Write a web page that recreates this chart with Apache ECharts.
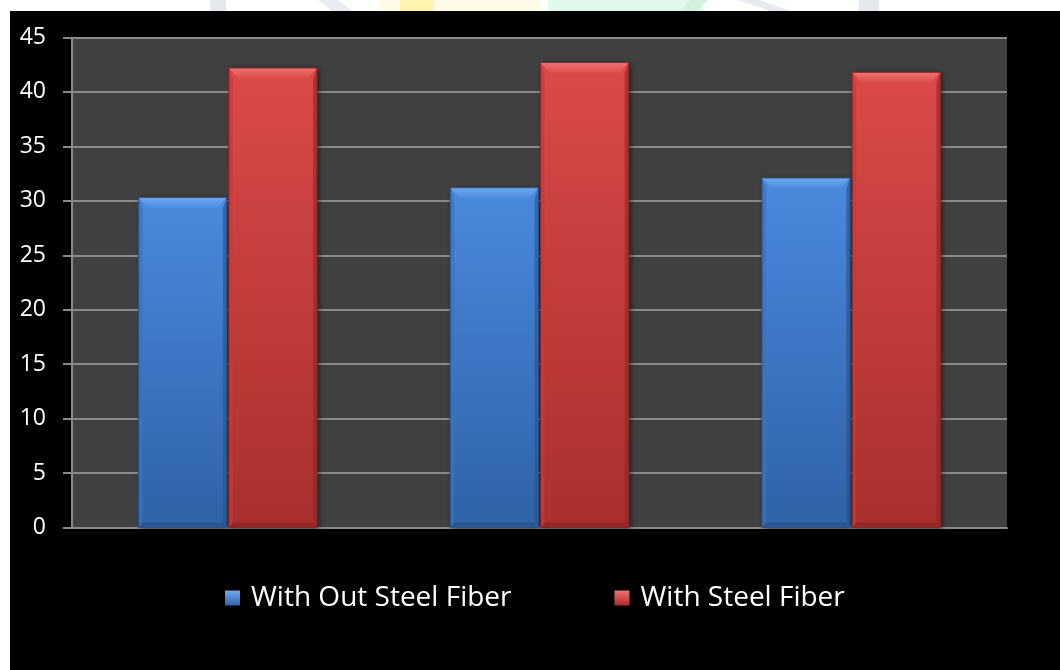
<!DOCTYPE html>
<html>
<head>
<meta charset="utf-8">
<title>Steel fiber comparison</title>
<script src="https://cdn.jsdelivr.net/npm/echarts@6/dist/echarts.min.js"></script>
<style>
  html, body { margin: 0; padding: 0; background: #000; }
  #chart { width: 1060px; height: 670px; }
</style>
</head>
<body>
<div id="chart"></div>
<script>
// Values per mix: compressive strength without and with steel fiber
const categories = ['1', '2', '3'];
const seriesNames = ['With Out Steel Fiber', 'With Steel Fiber'];
const withoutFiber = [30.3, 31.2, 32.1];
const withFiber = [42.2, 42.7, 41.8];
const yTicks = { min: 0, max: 45, interval: 5 };

// Bevelled bar palettes: body gradient, top bevel, side and bottom edges
const palettes = [
  { top: '#4a8ade', bottom: '#2f62a6', bevel: '#6eaaf2', side: '#3a74c0', edge: '#28548f' },
  { top: '#dc4a48', bottom: '#a8302e', bevel: '#f07270', side: '#c23c3a', edge: '#8c2624' }
];

function bevelBar(sideIndex) {
  const pal = palettes[sideIndex];
  return function (params, api) {
    const cat = api.value(0);
    const val = api.value(1);
    const topPt = api.coord([cat, val]);
    const basePt = api.coord([cat, 0]);
    const band = api.size([1, 0])[0];
    const bw = band * 0.283;
    const x = sideIndex === 0 ? topPt[0] - bw - 1 : topPt[0] + 1;
    const y = topPt[1];
    const h = basePt[1] - topPt[1];
    const b = 11, s = 4, d = 5;
    return {
      type: 'group',
      children: [
        {
          type: 'rect',
          shape: { x: x, y: y, width: bw, height: h },
          style: {
            fill: new echarts.graphic.LinearGradient(0, 0, 0, 1, [
              { offset: 0, color: pal.top },
              { offset: 1, color: pal.bottom }
            ]),
            shadowBlur: 6, shadowOffsetX: 2, shadowOffsetY: 1, shadowColor: 'rgba(0,0,0,0.55)'
          }
        },
        {
          type: 'polygon',
          shape: { points: [[x, y + h], [x + s, y + h - d], [x + bw - s, y + h - d], [x + bw, y + h]] },
          style: { fill: pal.edge, opacity: 0.8 }
        },
        {
          type: 'polygon',
          shape: { points: [[x, y], [x + s, y + b], [x + s, y + h - d], [x, y + h]] },
          style: { fill: pal.side, opacity: 0.7 }
        },
        {
          type: 'polygon',
          shape: { points: [[x + bw, y], [x + bw - s, y + b], [x + bw - s, y + h - d], [x + bw, y + h]] },
          style: { fill: pal.edge, opacity: 0.6 }
        },
        {
          type: 'polygon',
          shape: { points: [[x, y], [x + bw, y], [x + bw - s - 6, y + b], [x + s + 6, y + b]] },
          style: {
            fill: new echarts.graphic.LinearGradient(0, 0, 0, 1, [
              { offset: 0, color: pal.bevel },
              { offset: 1, color: pal.top }
            ])
          }
        },
        {
          type: 'rect',
          shape: { x: x, y: y, width: bw, height: h },
          style: { fill: 'none', stroke: pal.edge, lineWidth: 1 }
        }
      ]
    };
  };
}

function toData(values) {
  return values.map(function (v, i) { return [i, v]; });
}

function legendColor(i) {
  return new echarts.graphic.LinearGradient(0, 0, 0, 1, [
    { offset: 0, color: palettes[i].bevel },
    { offset: 1, color: palettes[i].bottom }
  ]);
}

const chart = echarts.init(document.getElementById('chart'), null, { renderer: 'canvas' });

chart.setOption({
  backgroundColor: '#000',
  animation: false,
  textStyle: { fontFamily: 'Open Sans' },
  graphic: [
    // page margin above and left of the chart, with faint decorative shapes
    { type: 'rect', left: 0, top: 0, shape: { width: 1060, height: 11 }, style: { fill: '#ffffff' }, z: 0 },
    { type: 'rect', left: 0, top: 0, shape: { width: 10, height: 670 }, style: { fill: '#ffffff' }, z: 0 },
    { type: 'rect', left: 210, top: 0, shape: { width: 16, height: 11 }, style: { fill: '#e4e9ee' }, z: 1 },
    { type: 'polygon', shape: { points: [[318, 0], [338, 0], [352, 11], [332, 11]] }, style: { fill: '#e9edf1' }, z: 1 },
    { type: 'rect', left: 380, top: 0, shape: { width: 160, height: 11 }, style: { fill: '#fffbe6' }, z: 1 },
    { type: 'rect', left: 400, top: 0, shape: { width: 34, height: 11 }, style: { fill: '#fff3b0' }, z: 1 },
    { type: 'rect', left: 548, top: 0, shape: { width: 155, height: 11 }, style: { fill: '#e3f8ec' }, z: 1 },
    { type: 'polygon', shape: { points: [[690, 0], [708, 0], [696, 11], [680, 11]] }, style: { fill: '#d6f0e0' }, z: 1 },
    { type: 'polygon', shape: { points: [[738, 0], [760, 0], [790, 11], [770, 11]] }, style: { fill: '#e6ebef' }, z: 1 },
    { type: 'rect', left: 859, top: 0, shape: { width: 20, height: 11 }, style: { fill: '#e4e9ee' }, z: 1 }
  ],
  grid: {
    left: 72, right: 53, top: 37.5, bottom: 142.5,
    show: true, backgroundColor: '#404040', borderWidth: 0
  },
  legend: {
    left: 220,
    top: 579,
    itemWidth: 15,
    itemHeight: 15,
    itemGap: 103,
    icon: 'rect',
    textStyle: { color: '#ffffff', fontSize: 28, fontFamily: 'Open Sans', padding: [0, 0, 0, 6] },
    data: [
      { name: seriesNames[0], itemStyle: { color: legendColor(0) } },
      { name: seriesNames[1], itemStyle: { color: legendColor(1) } }
    ]
  },
  xAxis: {
    type: 'category',
    data: categories,
    axisLine: { show: true, lineStyle: { color: '#8a8a8a', width: 2 } },
    axisTick: { show: false },
    axisLabel: { show: false },
    splitLine: { show: false }
  },
  yAxis: {
    type: 'value',
    min: yTicks.min,
    max: yTicks.max,
    interval: yTicks.interval,
    axisLine: { show: true, lineStyle: { color: '#8a8a8a', width: 2 } },
    axisTick: { show: true, length: 9, lineStyle: { color: '#8a8a8a', width: 2 } },
    axisLabel: { color: '#ffffff', fontSize: 23, fontFamily: 'Open Sans', margin: 26 },
    splitLine: { show: true, lineStyle: { color: '#8a8a8a', width: 2 } }
  },
  series: [
    {
      name: seriesNames[0],
      type: 'custom',
      renderItem: bevelBar(0),
      encode: { x: 0, y: 1 },
      itemStyle: { color: palettes[0].top },
      data: toData(withoutFiber),
      z: 3
    },
    {
      name: seriesNames[1],
      type: 'custom',
      renderItem: bevelBar(1),
      encode: { x: 0, y: 1 },
      itemStyle: { color: palettes[1].top },
      data: toData(withFiber),
      z: 3
    }
  ]
});
</script>
</body>
</html>
